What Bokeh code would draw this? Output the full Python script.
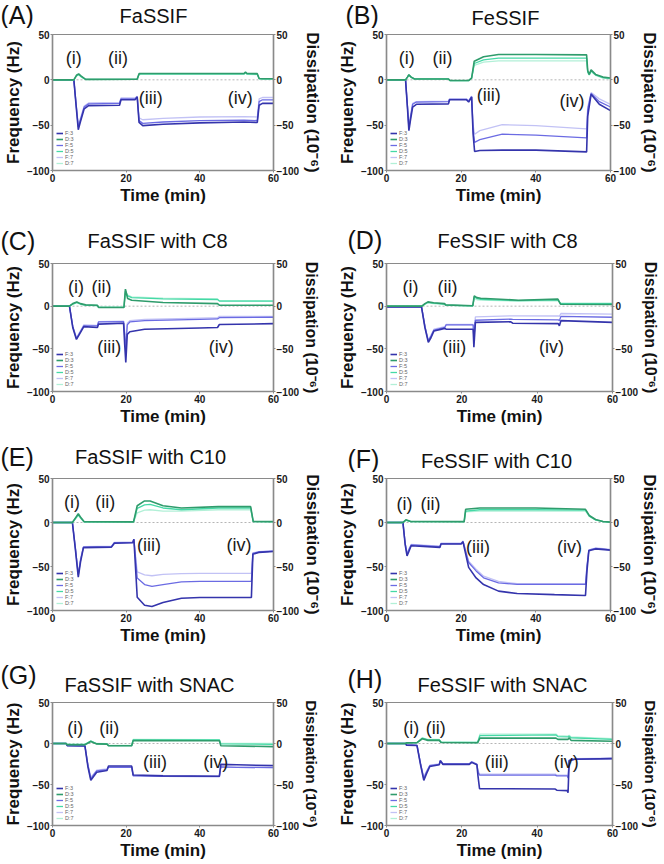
from bokeh.plotting import figure
from bokeh.layouts import column, row
from bokeh.models import Range1d, LinearAxis, FixedTicker, Label, Legend, LegendItem, Span
from bokeh.core.properties import value
from bokeh.embed import file_html
from bokeh.resources import INLINE

# ---------------- data ----------------
X_TICKS = [0, 20, 40, 60]
Y_TICKS = [-100, -50, 0, 50]
NOTE_TEXT = ["(i)", "(ii)", "(iii)", "(iv)"]
SERIES_NAMES = ["F:3", "D:3", "F:5", "D:5", "F:7", "D:7"]

# (A) FaSSIF
A_tF = [0, 5.8, 6.4, 7.0, 7.6, 8.6, 9.8, 18.2, 18.6, 22.4, 23.0, 23.5, 24.5, 30, 40, 52, 55.6, 56.1, 57, 60]
A_F3 = [0, 0, -28, -55, -46, -32, -28.5, -28, -22, -22, -19, -47, -50.5, -49, -47.5, -46.5, -47, -28, -26, -26]
A_F5 = [0, 0, -27, -52, -44, -30, -26.5, -26, -21, -21, -18.5, -45, -48, -46.5, -45, -44.5, -45, -24, -22, -22]
A_F7 = [0, 0, -26, -50, -42, -29, -25.5, -25, -20, -20, -18, -42, -44, -42.5, -41, -40.5, -41, -21, -19.5, -19.5]
A_tD = [0, 5.8, 6.5, 7.1, 7.8, 9.0, 23.0, 23.5, 24, 52, 52.4, 52.8, 55.6, 56.1, 57, 60]
A_D3 = [0, 0, 5, 6.5, 4, 0.5, 0.8, 6.8, 7, 7, 8.5, 7, 6.8, 1.5, 1.2, 1.2]
A_D5 = [0, 0, 4.5, 6, 3.5, 0.4, 0.6, 6.3, 6.5, 6.5, 8, 6.5, 6.3, 1.3, 1, 1]
A_D7 = [0, 0, 4, 5.5, 3, 0.3, 0.5, 5.8, 6, 6, 7.5, 6, 5.8, 1.1, 0.9, 0.9]

# (B) FeSSIF
B_tF = [0, 5.1, 5.6, 6.0, 6.4, 7.0, 8.0, 16.6, 16.9, 21.4, 22.0, 22.8, 23.2, 23.6, 25, 31, 40, 53.6, 53.9, 54.8, 57, 60]
B_F3 = [0, 0, -30, -56, -45, -30, -27, -26.5, -22, -22, -24.5, -19, -60, -79, -78, -77.5, -77.5, -79.5, -40, -16, -27, -34]
B_F5 = [0, 0, -29, -53, -42, -27, -24.5, -24, -21.5, -21.5, -23.5, -18.5, -55, -69, -66, -60, -61, -64, -33, -15, -24, -30]
B_F7 = [0, 0, -28, -50, -40, -26, -24, -23.5, -21, -21, -23, -18, -50, -60, -56, -49.5, -50.5, -54, -30, -14, -21, -27]
B_tD = [0, 5.1, 5.6, 6.0, 6.6, 7.5, 16.6, 17.0, 22.0, 22.8, 23.5, 26, 30, 40, 53.6, 53.9, 54.3, 54.8, 56, 58, 60]
B_D3 = [0, 0, 3, 5.7, 3, 1, 1, -0.8, -0.8, 2, 20.5, 25.5, 28, 28, 27.5, 10, 6, 11, 6, 3, 2]
B_D5 = [0, 0, 3, 5.5, 3, 1, 1, -0.8, -0.8, 2, 18, 22, 24, 24, 24, 9, 5.5, 10, 5.5, 2.5, 1.5]
B_D7 = [0, 0, 2.5, 5, 2.5, 0.8, 0.8, -0.8, -0.8, 2, 16, 19.5, 21, 21, 21, 8, 5, 9, 5, 2, 1.2]

# (C) FaSSIF with C8
C_tF = [0, 4.6, 5.5, 6.5, 7.3, 8.5, 12.2, 12.5, 19.3, 19.6, 19.9, 20.3, 21, 25, 40, 44.8, 45.3, 60]
C_F3 = [0, 0, -25, -39, -33, -24, -25, -21, -20, -45, -66, -33, -30, -27, -25.5, -25, -21.5, -20.5]
C_F5 = [0, 0, -24, -38, -32, -23, -23, -18.5, -18, -35, -50, -22, -18.5, -17, -15.5, -15, -13.5, -13]
C_F7 = [0, 0, -23, -37, -31, -22, -22.5, -18, -17.5, -30, -40, -20, -17, -15.5, -14, -13.5, -12, -12]
C_tD = [0, 4.6, 5.5, 6.6, 7.6, 9.0, 12.2, 12.5, 19.4, 19.8, 20.4, 21.5, 30, 44.8, 45.3, 60]
C_D3 = [0, 0, 3, 5, 3, 1.5, 1, -1.5, -1.5, 20, 9, 7, 4.3, 3, 1.2, 1]
C_D5 = [0, 0, 2.5, 4.5, 2.5, 1.2, 0.8, -1.3, -1.3, 18, 12, 10, 8.5, 7.8, 6, 5.8]
C_D7 = [0, 0, 2, 4, 2, 1, 0.6, -1.2, -1.2, 16, 13, 11, 9.5, 8.5, 6.5, 6.3]

# (D) FeSSIF with C8
D_tF = [0, 9.3, 10.2, 11.1, 11.8, 12.6, 15.5, 15.8, 23.0, 23.2, 23.6, 33.0, 33.5, 45.6, 45.9, 46.3, 60]
D_F3 = [-1, -1, -25, -42.5, -37, -29, -26, -27, -27, -48, -19, -18.3, -20, -20.5, -23, -17, -19]
D_F5 = [-0.8, -0.8, -24, -41, -35, -28, -25, -22, -22, -38, -16.5, -15.2, -15.5, -16, -17, -12, -13]
D_F7 = [-0.6, -0.6, -23, -40, -34, -27, -24, -21.5, -21.5, -30, -12.5, -11.3, -11.3, -11.5, -12, -8.6, -9.3]
D_tD = [0, 9.4, 10.2, 11.0, 12.5, 15.4, 15.7, 22.9, 23.3, 24.0, 25.0, 35, 45.5, 46.2, 60]
D_D3 = [0, 0, 3, 5, 4, 3, 1.5, 0.4, 12, 10, 9.3, 7, 8.2, 2.3, 2]
D_D5 = [0, 0, 2.5, 4.5, 3.5, 2.5, 1.2, 0.3, 11, 9, 8, 6.5, 7.5, 3, 3]
D_D7 = [0, 0, 2, 4, 3, 2, 1, 0.2, 9, 7.5, 7, 6, 6.5, 3.5, 3.5]

# (E) FaSSIF with C10
E_tF = [0, 5.4, 6.2, 7.0, 7.6, 8.4, 16.0, 16.8, 21.8, 22.1, 23.0, 25, 27, 30, 35, 40, 54.0, 54.4, 56, 60]
E_F3 = [0, 0, -30, -62, -45, -28.5, -28, -23.5, -23, -19, -85, -94, -95.5, -91, -86, -85.3, -85.3, -36, -34, -33]
E_F5 = [0, 0, -29, -60, -43, -28, -27.5, -23, -22.5, -19, -63, -70.5, -72.5, -70.5, -67.5, -67, -67, -35, -33.5, -32.5]
E_F7 = [0, 0, -28, -58, -41, -27.5, -27, -22.5, -22, -19, -56, -59.5, -60.5, -59, -58, -57.8, -57.8, -34.5, -33, -32]
E_tD = [0, 5.4, 6.2, 7.0, 7.8, 8.6, 22.0, 23.0, 25.0, 26.5, 30, 35, 45, 53.8, 54.5, 60]
E_D3 = [0, 0, 5, 9.9, 5, 0.8, 0.7, 19, 24.5, 24.5, 19, 16.5, 18, 18, 1.1, 1]
E_D5 = [0, 0, 4.5, 9, 4.5, 0.7, 0.6, 16, 20, 20.5, 16.5, 14.5, 16.5, 16.5, 1, 0.9]
E_D7 = [0, 0, 4, 8, 4, 0.6, 0.5, 11, 14, 14.5, 13, 13, 14.5, 14.5, 0.9, 0.8]

# (F) FeSSIF with C10
F_tF = [0, 4.4, 5.0, 5.5, 6.0, 6.6, 14.3, 14.6, 20.0, 20.5, 20.9, 22, 24, 26, 30, 35, 45, 53.3, 53.7, 54.2, 56, 60]
F_F3 = [0, 0, -25, -38, -33, -26.5, -28.3, -24.5, -24.5, -22, -30, -51, -63, -70.5, -78, -80.7, -82, -83, -55, -32, -30, -31.4]
F_F5 = [0, 0, -24, -36, -31, -25.5, -27.5, -24, -24, -21.5, -28, -45.5, -55, -62.8, -68.5, -70.4, -70.4, -70.4, -50, -31.5, -29.5, -31]
F_F7 = [0, 0, -23, -35, -30, -25, -27, -23.5, -23.5, -21, -27, -44, -53, -61, -67, -69.5, -69.5, -69.5, -49, -31, -29, -30.5]
F_tD = [0, 4.4, 5.2, 6.5, 20.8, 21.2, 25, 40, 53.3, 54.3, 56, 58, 60]
F_D3 = [0, 0, 3, 1.1, 1, 15, 16.5, 16.5, 15, 8, 3.4, 1.1, 0.4]
F_D5 = [0, 0, 2.7, 1, 0.9, 13, 14.5, 14.5, 14, 7.5, 3, 1, 0.4]
F_D7 = [0, 0, 2.4, 0.9, 0.8, 12, 13, 13, 13, 7, 2.8, 0.9, 0.3]

# (G) FaSSIF with SNAC
G_tF = [0, 3.7, 4.0, 8.8, 9.6, 10.4, 11.2, 12.0, 14.8, 15.2, 21.5, 21.9, 30, 45.3, 45.7, 50, 60]
G_F3 = [0, 0, -2.7, -3, -28, -45, -40, -35, -33, -27.5, -27.5, -38.5, -39.5, -40, -25.5, -26, -27]
G_F5 = [0, 0, -2.5, -2.8, -26, -43, -38, -33.5, -32, -29, -29, -39.5, -40, -40.5, -28.5, -29, -29.5]
G_F7 = [0, 0, -2.3, -2.6, -25, -41, -37, -32.5, -31, -28.5, -28.5, -38.5, -39, -39.5, -28.5, -29, -29.5]
G_tD = [0, 3.7, 4.0, 8.8, 10.4, 12.0, 14.8, 15.2, 21.5, 21.9, 45.3, 45.7, 60]
G_D3 = [0, 0, -1.5, -1.5, 2.5, -0.5, -0.8, -2.8, -2.8, 3.5, 3.3, -2.8, -3.8]
G_D5 = [0, 0, -1.2, -1.2, 3, -0.3, -0.5, -2.5, -2.5, 4.5, 4.3, -0.5, -1]
G_D7 = [0, 0, -1, -1, 3.3, 0, -0.2, -2.2, -2.2, 5, 4.8, 0.3, 0]

# (H) FeSSIF with SNAC
H_tF = [0, 5.0, 5.3, 8.1, 9.0, 9.9, 10.6, 11.5, 14.0, 14.3, 15.0, 22.0, 22.6, 24.0, 24.3, 24.7, 44.8, 45.2, 48.0, 48.2, 48.5, 50, 60]
H_F3 = [0, 0, -2, -2.5, -25, -45, -37, -28, -26, -21, -25.5, -25.5, -23, -26, -40, -55, -55.5, -57, -57.5, -60, -21, -19.2, -18.5]
H_F5 = [0, 0, -1.8, -2.3, -24, -43, -35, -27, -25.5, -21, -25, -25, -22.5, -25.5, -35, -38.5, -38.5, -39.5, -39.5, -42, -20.5, -19, -18.3]
H_F7 = [0, 0, -1.6, -2.1, -23, -41, -34, -26.5, -25, -20.5, -24.5, -24.5, -22, -25, -33, -37.3, -37.3, -38.5, -38.5, -41, -20, -18.5, -18]
H_tD = [0, 5.0, 5.3, 8.1, 9.5, 11.0, 14.0, 14.5, 24.2, 24.8, 45.0, 45.5, 48.2, 48.5, 49, 60]
H_D3 = [0, 0, 0.8, 1, 5.8, 3.8, 3.8, 1.2, 1, 6.5, 6.5, 5, 5, 7, 3.8, 2.7]
H_D5 = [0, 0, 0.8, 1, 6.5, 4.5, 4.5, 1.5, 1.2, 9.6, 10.4, 8.5, 8, 9, 7, 5]
H_D7 = [0, 0, 0.8, 1, 7, 5, 5, 1.8, 1.4, 11.5, 11.5, 9.5, 9, 10, 8, 6]

TITLES = {"A": "FaSSIF", "B": "FeSSIF", "C": "FaSSIF with C8", "D": "FeSSIF with C8",
          "E": "FaSSIF with C10", "F": "FeSSIF with C10", "G": "FaSSIF with SNAC", "H": "FeSSIF with SNAC"}

DATA = {
    "A": (A_tF, A_F3, A_F5, A_F7, A_tD, A_D3, A_D5, A_D7),
    "B": (B_tF, B_F3, B_F5, B_F7, B_tD, B_D3, B_D5, B_D7),
    "C": (C_tF, C_F3, C_F5, C_F7, C_tD, C_D3, C_D5, C_D7),
    "D": (D_tF, D_F3, D_F5, D_F7, D_tD, D_D3, D_D5, D_D7),
    "E": (E_tF, E_F3, E_F5, E_F7, E_tD, E_D3, E_D5, E_D7),
    "F": (F_tF, F_F3, F_F5, F_F7, F_tD, F_D3, F_D5, F_D7),
    "G": (G_tF, G_F3, G_F5, G_F7, G_tD, G_D3, G_D5, G_D7),
    "H": (H_tF, H_F3, H_F5, H_F7, H_tD, H_D3, H_D5, H_D7),
}

# ---------------- layout / style ----------------
# positions of the (i)-(iv) annotations in data units
NOTE_POS = {
    "A": ([5.8, 17.8, 26.7, 51.0], [24, 24, -20, -20]),
    "B": ([5.4, 15.0, 27.4, 49.7], [24, 24, -17, -23]),
    "C": ([6.4, 13.3, 15.4, 45.8], [22, 22, -48, -48]),
    "D": ([6.4, 16.2, 18.0, 43.8], [22, 22, -48, -48]),
    "E": ([5.3, 14.3, 26.2, 50.6], [23, 23, -25, -25]),
    "F": ([4.8, 11.8, 24.5, 49.0], [21, 21, -28, -28]),
    "G": ([6.2, 15.4, 27.8, 44.3], [19, 19, -23, -23]),
    "H": ([6.6, 13.1, 29.3, 47.7], [19, 19, -23, -23]),
}
# header: letter (x, y) and title (x, y), in pixels within the header strip
HEAD = {"A": (0, 14, 153, 15), "B": (13, 14, 173, 17),
        "C": (0, 25, 157, 25), "D": (15, 24, 175, 25),
        "E": (0, 26, 150, 26), "F": (15, 28, 164, 30),
        "G": (0, 27, 149, 37), "H": (15, 31, 170, 37)}

COLS = [dict(w=332, bl=43, br=59), dict(w=330, bl=54, br=46)]
ROWS = [dict(hh=28, mh=187, bb=45, rlab="17px"), dict(hh=42, mh=173, bb=39, rlab="16px"),
        dict(hh=42, mh=175, bb=35, rlab="17px"), dict(hh=49, mh=166, bb=34, rlab="15.5px")]
BT = 6

COL_F = {"3": "#3434ac", "5": "#6b6be3", "7": "#c2c2f5"}
COL_D = {"3": "#2f9c6c", "5": "#45d9a6", "7": "#b2f0d7"}
FONT = "Liberation Sans"
AX_COL = "#8a8a8a"


def style_axis(ax, label_size="17px"):
    ax.axis_line_color = AX_COL
    ax.axis_line_width = 1.5
    ax.major_tick_line_color = AX_COL
    ax.major_tick_out = 2
    ax.major_tick_in = 0
    ax.minor_tick_line_color = None
    ax.major_label_text_font = FONT
    ax.major_label_text_font_style = "bold"
    ax.major_label_text_font_size = "10px"
    ax.major_label_text_color = "#1a1a1a"
    ax.major_label_standoff = 1
    ax.axis_label_text_font = FONT
    ax.axis_label_text_font_style = "bold"
    ax.axis_label_text_font_size = label_size
    ax.axis_label_text_color = "#111111"
    ax.axis_label_standoff = 1


def make_header(key, ci, ri):
    w = COLS[ci]["w"]
    hh = ROWS[ri]["hh"]
    h = figure(width=w, height=hh, x_range=Range1d(0, w), y_range=Range1d(hh, 0),
               output_backend="svg", toolbar_location=None, x_axis_type=None, y_axis_type=None,
               min_border=0, title=None, frame_align=False)
    h.outline_line_color = None
    h.background_fill_color = "white"
    h.border_fill_color = "white"
    lx, ly, tx, ty = HEAD[key]
    h.text(x=[lx], y=[ly], text=["(" + key + ")"], text_font=value(FONT), text_font_size="25px",
           text_align="left", text_baseline="middle", text_color="#111111")
    h.text(x=[tx], y=[ty], text=[TITLES[key]], text_font=value(FONT), text_font_size="20px",
           text_align="center", text_baseline="middle", text_color="#111111")
    return h


def make_panel(key, ci, ri):
    c = COLS[ci]
    r = ROWS[ri]
    p = figure(width=c["w"], height=r["mh"], x_range=Range1d(0, 60), y_range=Range1d(-100, 50),
               output_backend="svg", toolbar_location=None, title=None,
               min_border_left=c["bl"], min_border_right=c["br"],
               min_border_top=BT, min_border_bottom=r["bb"])
    p.xgrid.visible = False
    p.ygrid.visible = False
    p.outline_line_color = AX_COL
    p.outline_line_width = 1.2
    p.background_fill_color = "white"
    p.border_fill_color = "white"

    p.xaxis[0].ticker = FixedTicker(ticks=X_TICKS)
    p.yaxis[0].ticker = FixedTicker(ticks=Y_TICKS)
    p.xaxis[0].axis_label = "Time (min)"
    p.yaxis[0].axis_label = "Frequency (Hz)"
    rax = LinearAxis(ticker=FixedTicker(ticks=Y_TICKS), axis_label="Dissipation (10\u207b\u2076)")
    p.add_layout(rax, "right")
    style_axis(p.xaxis[0])
    style_axis(p.yaxis[0])
    style_axis(rax, r["rlab"])

    p.add_layout(Span(location=0, dimension="width", line_color="#b5b5b5",
                      line_dash="2 2", line_width=1, level="underlay"))

    tF, F3, F5, F7, tD, D3, D5, D7 = DATA[key]
    rend = {}
    rend["F:7"] = p.line(tF, F7, line_color=COL_F["7"], line_width=1.3)
    rend["F:5"] = p.line(tF, F5, line_color=COL_F["5"], line_width=1.3)
    rend["F:3"] = p.line(tF, F3, line_color=COL_F["3"], line_width=1.6)
    rend["D:7"] = p.line(tD, D7, line_color=COL_D["7"], line_width=1.3)
    rend["D:5"] = p.line(tD, D5, line_color=COL_D["5"], line_width=1.3)
    rend["D:3"] = p.line(tD, D3, line_color=COL_D["3"], line_width=1.6)

    legend = Legend(items=[LegendItem(label=n, renderers=[rend[n]]) for n in SERIES_NAMES],
                    location="bottom_left", label_text_font=FONT, label_text_font_size="5.5px",
                    label_text_color="#666666", glyph_width=7, glyph_height=6, label_height=6,
                    label_standoff=2, spacing=0, padding=1, margin=3,
                    background_fill_alpha=0, border_line_alpha=0)
    p.add_layout(legend, "center")

    xs, ys = NOTE_POS[key]
    for txt, x, y in zip(NOTE_TEXT, xs, ys):
        p.add_layout(Label(x=x, y=y, text=txt, text_align="center", text_baseline="middle",
                           text_font=FONT, text_font_size="18px", text_color="#1a1a1a"))
    return p


keys = [["A", "B"], ["C", "D"], ["E", "F"], ["G", "H"]]
rows = []
for ri, pair in enumerate(keys):
    cells = [column(make_header(k, ci, ri), make_panel(k, ci, ri), spacing=0)
             for ci, k in enumerate(pair)]
    rows.append(row(*cells, spacing=0))
layout = column(*rows, spacing=0)

open("out.html", "w").write(file_html(layout, INLINE))
